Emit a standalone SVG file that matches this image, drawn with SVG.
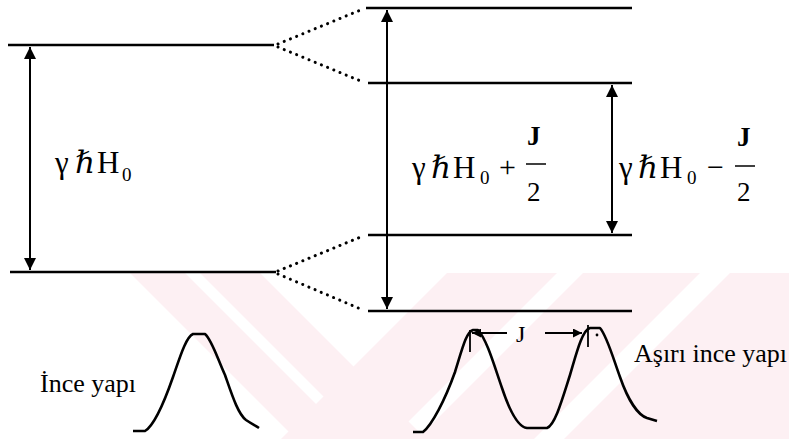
<svg xmlns="http://www.w3.org/2000/svg" width="789" height="439" viewBox="0 0 789 439">
<defs>
<style>
.lvl{stroke:#000;stroke-width:2.6;fill:none}
.dot{stroke:#000;stroke-width:3;stroke-linecap:round;stroke-dasharray:0.1 6.6;fill:none}
.arr{stroke:#000;stroke-width:2;fill:none;marker-start:url(#ah);marker-end:url(#ah)}
.sm{stroke:#000;stroke-width:2;fill:none;marker-end:url(#ahs)}
.crv{stroke:#000;stroke-width:2.6;fill:none;stroke-linejoin:round}
text{fill:#000;font-family:"Liberation Serif","DejaVu Serif","Times New Roman",serif}
.wm{fill:#fdf0f3}
</style>
<marker id="ah" viewBox="0 0 12 12" refX="12" refY="6" markerWidth="12" markerHeight="12" markerUnits="userSpaceOnUse" orient="auto-start-reverse">
<path d="M0,0 L12,6 L0,12 Z" fill="#000"/>
</marker>
<marker id="ahs" viewBox="0 0 10 10" refX="10" refY="5" markerWidth="10" markerHeight="9" markerUnits="userSpaceOnUse" orient="auto">
<path d="M0,0 L10,5 L0,10 Z" fill="#000"/>
</marker>
</defs>
<rect width="789" height="439" fill="#fff"/>
<g id="watermark">
<polygon class="wm" points="130,273 185,273 351,439 296,439"/>
<polygon class="wm" points="200,273 260,273 426,439 366,439"/>
<polygon class="wm" points="447,273 557,273 391,439 281,439"/>
<polygon class="wm" points="583,273 700,273 534,439 417,439"/>
<polygon class="wm" points="730,273 789,273 789,439 564,439"/>
</g>
<g id="levels-left">
<line class="lvl" x1="8" y1="45" x2="274" y2="45"/>
<line class="lvl" x1="10" y1="272" x2="276" y2="272"/>
</g>
<g id="levels-right">
<line class="lvl" x1="366" y1="8" x2="632" y2="8"/>
<line class="lvl" x1="368" y1="83" x2="632" y2="83"/>
<line class="lvl" x1="368" y1="235" x2="632" y2="235"/>
<line class="lvl" x1="368" y1="311" x2="632" y2="311"/>
</g>
<g id="connectors">
<line class="dot" x1="278" y1="44" x2="363" y2="9"/>
<line class="dot" x1="278" y1="47" x2="363" y2="82"/>
<line class="dot" x1="278" y1="271" x2="363" y2="236"/>
<line class="dot" x1="278" y1="274" x2="363" y2="310"/>
<line class="arr" x1="30" y1="47" x2="30" y2="270"/>
<line class="arr" x1="387" y1="10" x2="387" y2="309"/>
<line class="arr" x1="612" y1="85" x2="612" y2="233"/>
</g>
<g id="label-left">
<text font-size="31" y="173"><tspan x="55">γ</tspan><tspan x="75" font-style="italic">ℏ</tspan><tspan x="97">H</tspan><tspan x="122" dy="8" font-size="19">0</tspan></text>
</g>
<g id="label-mid">
<text font-size="31" y="178"><tspan x="412">γ</tspan><tspan x="431" font-style="italic">ℏ</tspan><tspan x="453">H</tspan><tspan x="480" dy="6" font-size="19">0</tspan><tspan x="499" dy="-7" font-size="30">+</tspan></text>
<text font-size="27" font-weight="bold" x="527" y="145">J</text>
<line x1="526" y1="164" x2="546" y2="164" stroke="#000" stroke-width="1.5"/>
<text font-size="27" x="527" y="201">2</text>
</g>
<g id="label-right">
<text font-size="31" y="178"><tspan x="619">γ</tspan><tspan x="638" font-style="italic">ℏ</tspan><tspan x="660">H</tspan><tspan x="687" dy="6" font-size="19">0</tspan><tspan x="707" dy="-7" font-size="30">−</tspan></text>
<text font-size="27" font-weight="bold" x="737" y="146">J</text>
<line x1="735" y1="166" x2="755" y2="166" stroke="#000" stroke-width="1.5"/>
<text font-size="27" x="737" y="201">2</text>
</g>
<g id="spectrum-left">
<path class="crv" d="M133,431 L145,431 C155,425 165,400 173,377 C180,357 186,337 193,334 L205,334 C212,340 218,360 225,375 C232,395 238,414 246,420 C252,424 256,426 259,428"/>
<text font-size="26" x="40" y="392">İnce yapı</text>
</g>
<g id="spectrum-right">
<path class="crv" d="M413,432 L423,432 C432,425 445,400 455,372 C462,350 466,332 473,330 L478,330 C487,340 494,365 502,388 C510,412 518,427 527,428 L547,428 C555,425 562,400 570,375 C576,355 582,330 590,328 L600,328 C607,336 613,358 620,377 C628,400 638,415 647,418 L657,421"/>
<line x1="470" y1="330" x2="470" y2="352" stroke="#000" stroke-width="1.8"/>
<line x1="588" y1="325" x2="588" y2="347" stroke="#000" stroke-width="1.8"/>
<circle cx="597" cy="335" r="1.4" fill="#000"/>
<line class="sm" x1="507" y1="333" x2="472" y2="333"/>
<line class="sm" x1="545" y1="333" x2="582" y2="333"/>
<text font-size="24" x="516" y="342">J</text>
<text font-size="26" x="634" y="362">Aşırı ince yapı</text>
</g>
</svg>
